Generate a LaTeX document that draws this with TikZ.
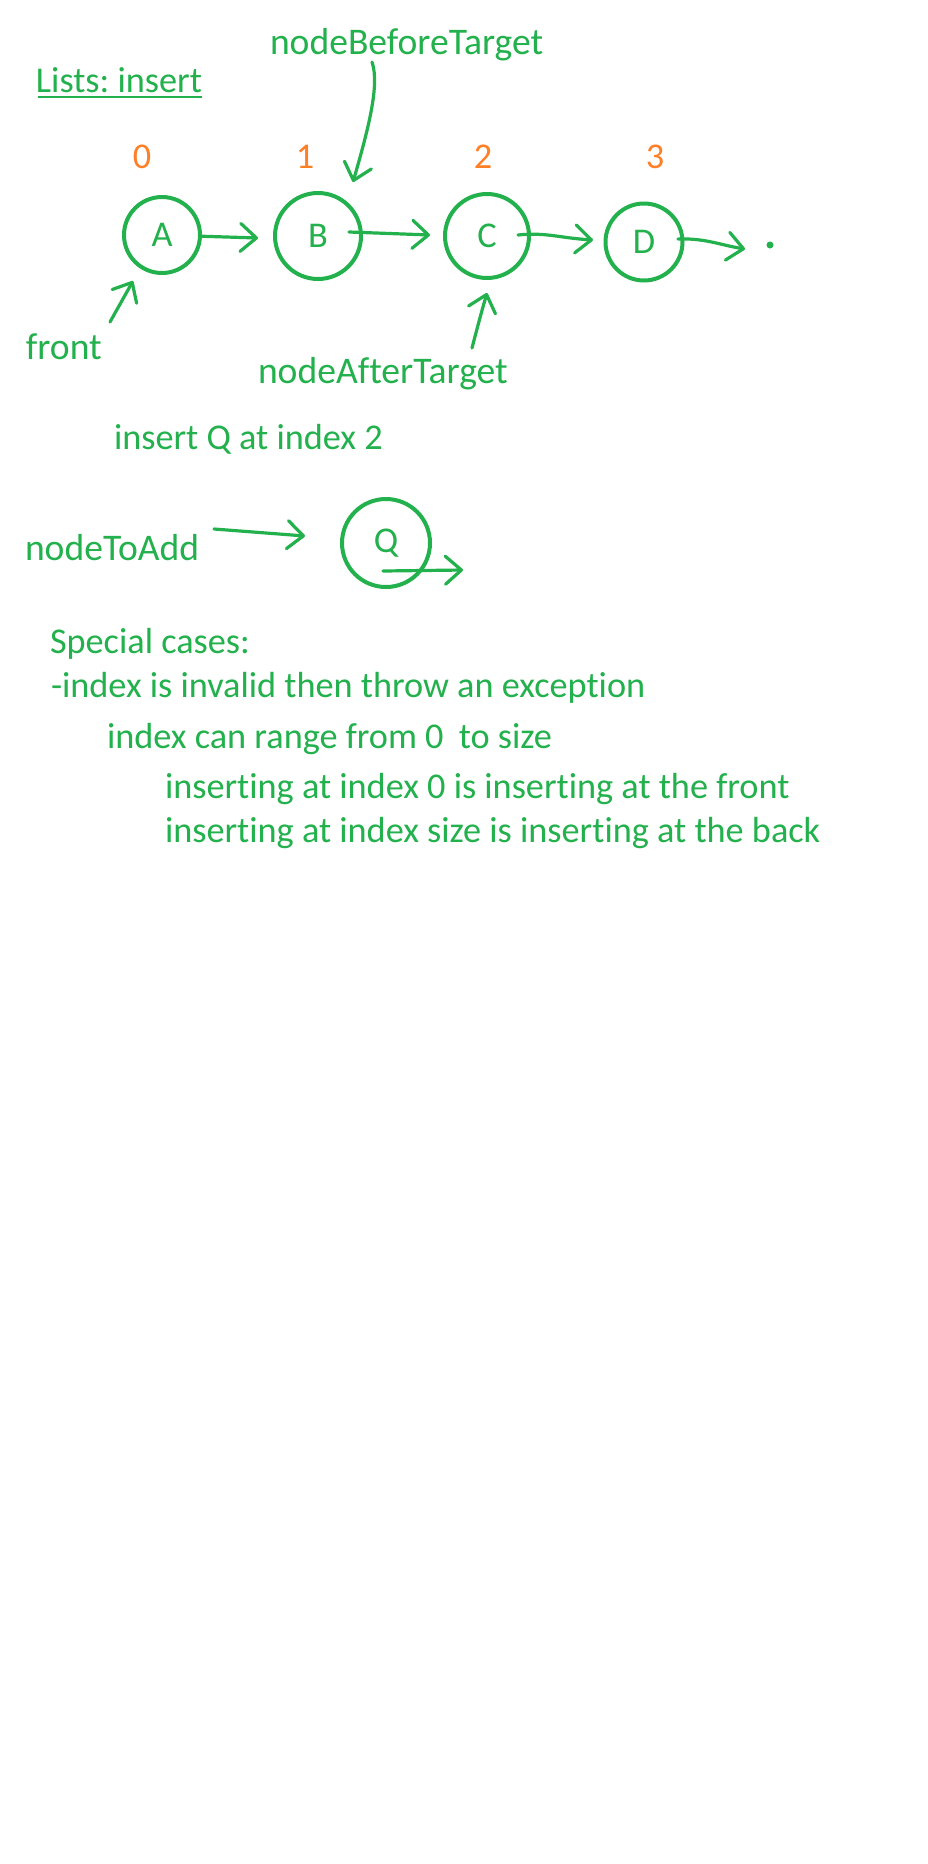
\documentclass[tikz,border=0pt]{standalone}
\usepackage{fontspec}
\setmainfont{Carlito}[Ligatures={NoCommon,NoRequired,NoContextual}, RawFeature={-liga;-clig;-calt;-dlig}]
\frenchspacing
\usetikzlibrary{arrows.meta,calc}
\definecolor{pgreen}{HTML}{22B14C}
\definecolor{porange}{HTML}{FF7F27}
\tikzset{
  txt/.style={inner sep=0pt, outer sep=0pt, text=pgreen, font=\fontsize{27.2pt}{33pt}\selectfont},
  lbl/.style={txt, font=\fontsize{28.2pt}{34pt}\selectfont},
  idx/.style={txt, text=porange, anchor=base},
  lnode/.style={circle, draw=pgreen, line width=3pt, inner sep=0pt, text=pgreen, font=\fontsize{27.2pt}{33pt}\selectfont},
  arr/.style={draw=pgreen, line width=2.4pt, line cap=round, line join=round,
    -{Straight Barb[length=12pt,width=21pt,line cap=round,line join=round]}},
}
\begin{document}
\begin{tikzpicture}[x=0.75pt,y=-0.75pt]
\useasboundingbox (0,0) rectangle (928,1864);
\fill[white] (0,0) rectangle (928,1864);

% title
\node[txt, anchor=base west] (title) at (36,92) {Lists: insert};
\draw[pgreen, line width=1.6pt] ($(title.base west)+(2,5)$) coordinate (ulA) -- ($(title.base east)+(0,5)$) coordinate (ulB);

% labels
\node[lbl, anchor=base west] (nbt) at (270,54) {nodeBeforeTarget};
\node[lbl, anchor=base west] (front) at (26,359) {front};
\node[lbl, anchor=base west] (nat) at (258,383) {nodeAfterTarget};

% indices
\node[idx] (i0) at (142,168) {0};
\node[idx] (i1) at (305,168) {1};
\node[idx] (i2) at (483,168) {2};
\node[idx] (i3) at (655,168) {3};

% list nodes
\node[lnode, minimum size=76*0.75pt] (A) at (162,235) {A};
\node[lnode, minimum size=86*0.75pt] (B) at (318,236) {B};
\node[lnode, minimum size=84*0.75pt] (C) at (487,236) {C};
\node[lnode, minimum size=77*0.75pt] (D) at (644,242) {D};

% connector coordinates
\coordinate (abE) at (258,238);
\coordinate (bcS) at (349,232);
\coordinate (bcE) at (430,235);
\coordinate (cdS) at (518,235);
\coordinate (cdE) at (593,240);
\coordinate (dnS) at (678,239);
\coordinate (dnE) at (745,249);
\coordinate (nbtS) at (372,62);
\coordinate (nbtE) at (353,182);
\coordinate (frS) at (110,322);
\coordinate (frE) at (133,281);
\coordinate (natS) at (472,348);
\coordinate (natE) at (487,293);

\draw[arr] (A) -- (abE);
\draw[arr] (bcS) -- (bcE);
\draw[arr] (cdS) .. controls (545,232) and (560,238) .. (cdE);
\draw[arr] (dnS) .. controls (705,238) and (720,245) .. (dnE);
\fill[pgreen] (770,245) circle (3.5);
\draw[arr] (nbtS) .. controls (380,85) and (368,130) .. (nbtE);
\draw[arr] (frS) -- (frE);
\draw[arr] (natS) .. controls (478,325) and (482,310) .. (natE);

% insert Q
\node[txt, anchor=base west] (ins) at (114,449) {insert Q at index 2};
\node[lbl, anchor=base west] (nta) at (25,560) {nodeToAdd};
\node[lnode, minimum size=88*0.75pt] (Q) at (386,543) {Q};
\coordinate (ntaS) at (214,529);
\coordinate (ntaE) at (305,536);
\coordinate (qS) at (383,571);
\coordinate (qE) at (463,570);
\draw[arr] (ntaS) -- (ntaE);
\draw[arr] (qS) -- (qE);

% special cases
\node[txt, anchor=base west] (sc) at (50,653) {Special cases:};
\node[txt, anchor=base west] (sc1) at (51,697) {-index is invalid then throw an exception};
\node[txt, anchor=base west] (sc2) at (107,748) {index can range from 0\hspace{0.42em}to size};
\node[txt, anchor=base west] (sc3) at (165,798) {inserting at index 0 is inserting at the front};
\node[txt, anchor=base west] (sc4) at (165,842) {inserting at index size is inserting at the back};
\end{tikzpicture}
\end{document}
